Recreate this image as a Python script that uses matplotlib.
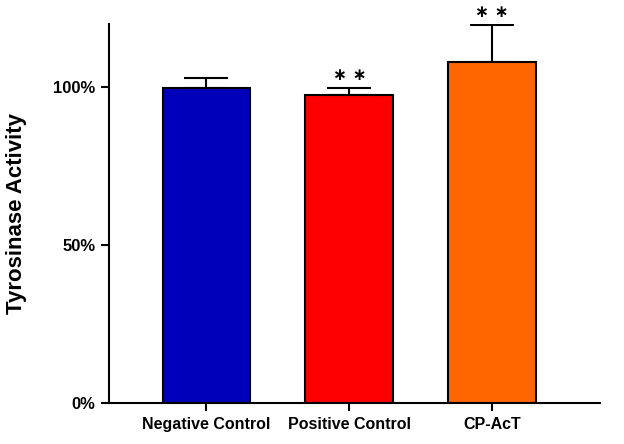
import numpy as np
import matplotlib
matplotlib.use("Agg")
import matplotlib.pyplot as plt
from matplotlib.ticker import PercentFormatter

plt.rcParams['font.family'] = ['Liberation Sans', 'DejaVu Sans']
plt.rcParams['font.weight'] = 'bold'

groups = ["Negative Control", "Positive Control", "CP-AcT"]
activity = [99.6, 97.5, 108.1]
err_up = [3.2, 2.1, 11.5]
stars = ["", "∗ ∗", "∗ ∗"]
colors = ["#0000bb", "#ff0000", "#ff6600"]

fig = plt.figure(figsize=(6.24, 4.44), dpi=100)
ax = fig.add_axes([0.174, 0.0923, 0.7875, 0.8537])

x = np.arange(len(groups))
ax.bar(x, activity, width=0.615, color=colors, edgecolor="black", linewidth=1.5, zorder=2)
ax.errorbar(x, activity, yerr=[np.zeros(len(x)), err_up], fmt="none",
            ecolor="black", elinewidth=1.5, capsize=15.8, capthick=1.5, zorder=1)

# significance marks above the error bars
for xi, top, e, s in zip(x, activity, err_up, stars):
    if s:
        ax.text(xi, top + e + 4.2, s, ha="center", va="center", fontsize=12,
                family="DejaVu Sans", fontweight="bold", clip_on=False)

ax.set_xlim(-0.685, 2.755)
ax.set_ylim(0, 120)
ax.set_yticks([0, 50, 100])
ax.yaxis.set_major_formatter(PercentFormatter(decimals=0))
ax.set_xticks(x)
ax.set_xticklabels(groups, fontsize=11.5, fontweight="bold")
for lbl in ax.get_yticklabels():
    lbl.set_fontsize(12)
    lbl.set_fontweight("bold")
ax.set_ylabel("Tyrosinase Activity", fontsize=16, fontweight="bold", labelpad=19)

for side in ["top", "right"]:
    ax.spines[side].set_visible(False)
for side in ["left", "bottom"]:
    ax.spines[side].set_linewidth(1.5)
ax.tick_params(axis="both", width=1.5, length=6, color="black")
ax.tick_params(axis="x", pad=4)

fig.savefig("out.png", dpi=100)
